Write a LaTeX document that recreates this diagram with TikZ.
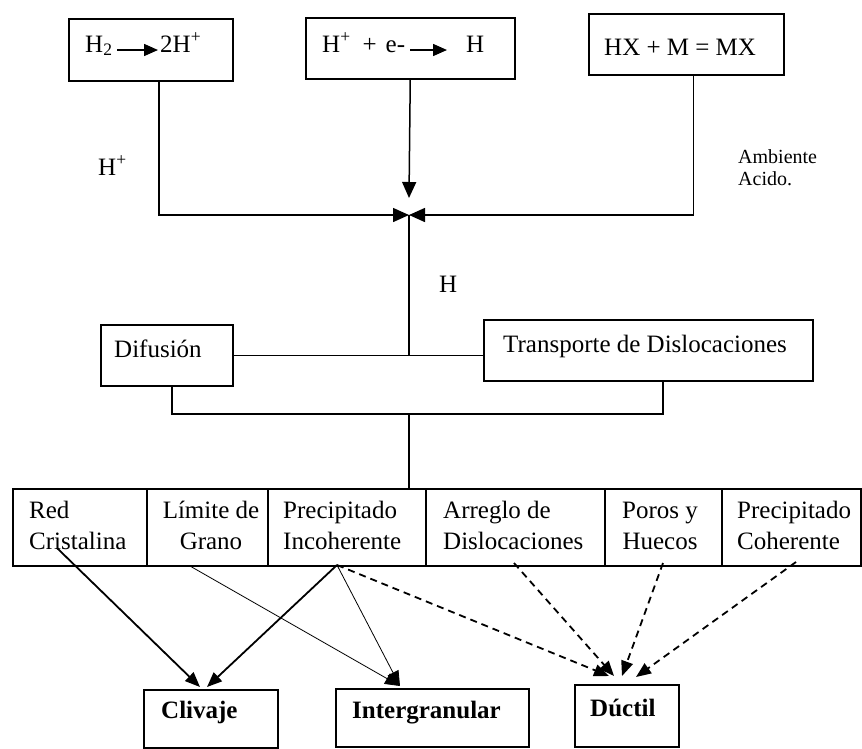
\documentclass[tikz,border=0pt]{standalone}
\usepackage{fontspec}
\setmainfont{Liberation Serif}
\usetikzlibrary{arrows.meta,calc}
\begin{document}
\begin{tikzpicture}[x=1pt,y=-1pt,
  box/.style={draw,line width=1.5pt,inner sep=0pt,anchor=north west},
  txt/.style={inner sep=0pt,anchor=base west,font=\fontsize{25}{30}\selectfont},
  ctxt/.style={inner sep=0pt,anchor=base,font=\fontsize{25}{30}\selectfont},
  small/.style={inner sep=0pt,anchor=base west,font=\fontsize{20}{24}\selectfont},
  wire/.style={line width=1.5pt},
  jarr/.style={line width=1.5pt,-{Triangle[length=16pt,width=14pt]}},
  rarr/.style={line width=1.5pt,-{Triangle[length=14pt,width=12pt]}},
  thick arr/.style={line width=1.8pt,-{Triangle[length=15pt,width=12pt]}},
  thin arr/.style={line width=0.8pt,-{Triangle[length=15pt,width=12pt]}},
  dash arr/.style={line width=1.8pt,dash pattern=on 7pt off 5pt,-{Triangle[length=15pt,width=12pt]}}
]
\useasboundingbox (0,0) rectangle (862,748);
\fill[white] (0,0) rectangle (862,748);

% ---- reactions (top row) ----
\node[box,minimum width=164pt,minimum height=62pt] (b1) at (68,18) {};
\node[box,minimum width=209pt,minimum height=61pt] (b2) at (305,17) {};
\node[box,minimum width=195pt,minimum height=61pt] (b3) at (588,13) {};

\node[txt] (t1a) at (85,52) {H\textsubscript{2}};
\node[txt] (t1b) at (160,52) {2H\textsuperscript{+}};
\coordinate (a1s) at (117,50);
\coordinate (a1e) at (158,50);
\draw[rarr] (a1s) -- (a1e);

\node[txt] (t2a) at (322,52) {H\textsuperscript{+}\hspace{12pt}+\hspace{9pt}e-};
\node[txt] (t2b) at (466,52) {H};
\coordinate (a2s) at (410,50);
\coordinate (a2e) at (447,50);
\draw[rarr] (a2s) -- (a2e);

\node[txt] (t3) at (604,55) {HX + M = MX};

% ---- merging of the three sources ----
\coordinate (j) at (409,215);
\coordinate (jt) at (409,198);
\draw[jarr] ($(b1.south)+(8,0)$) |- (j);
\draw[jarr] ($(b3.south)+(7,0)$) |- (j);
\draw[jarr] (b2.south) -- (jt);

\node[txt] (lhp) at (98,175) {H\textsuperscript{+}};
\node[small] (amb1) at (738,163) {Ambiente};
\node[small] (amb2) at (738,185) {Acido.};

% ---- transport mechanisms ----
\node[box,minimum width=132pt,minimum height=61pt] (dif) at (100,324) {};
\node[txt] (tdif) at (114,357) {Difusión};
\node[box,minimum width=329pt,minimum height=61pt] (tra) at (483,319) {};
\node[txt] (ttra) at (503,352) {Transporte de Dislocaciones};

\node[txt] (lh) at (439,292) {H};

\draw[wire] (j) -- (j |- dif.east);
\draw[wire] (dif.east) -- (tra.west |- dif.east);

\coordinate (lowL) at (172,414);
\coordinate (lowM) at (409,414);
\coordinate (lowR) at (663,414);
\draw[wire] (dif.south -| lowL) -- (lowL) -- (lowR) -- (tra.south -| lowR);

% ---- trapping sites ----
\node[box,minimum width=134pt,minimum height=77pt] (c1) at (12,488) {};
\node[box,minimum width=121pt,minimum height=77pt] (c2) at (146,488) {};
\node[box,minimum width=158pt,minimum height=77pt] (c3) at (267,488) {};
\node[box,minimum width=179pt,minimum height=77pt] (c4) at (425,488) {};
\node[box,minimum width=117pt,minimum height=77pt] (c5) at (604,488) {};
\node[box,minimum width=139pt,minimum height=77pt] (c6) at (721,488) {};

\draw[wire] (lowM) -- (lowM |- c3.north);

\node[txt] (c1a) at (29,518) {Red};
\node[txt] (c1b) at (29,549) {Cristalina};
\node[ctxt] (c2a) at (211,518) {Límite de};
\node[ctxt] (c2b) at (211,549) {Grano};
\node[txt] (c3a) at (283,518) {Precipitado};
\node[txt] (c3b) at (283,549) {Incoherente};
\node[txt] (c4a) at (443,518) {Arreglo de};
\node[txt] (c4b) at (443,549) {Dislocaciones};
\node[ctxt] (c5a) at (660,518) {Poros y};
\node[ctxt] (c5b) at (660,549) {Huecos};
\node[txt] (c6a) at (737,518) {Precipitado};
\node[txt] (c6b) at (737,549) {Coherente};

% ---- fracture modes ----
\node[box,minimum width=134pt,minimum height=58pt] (cli) at (143,689) {};
\node[txt,font=\fontsize{25}{30}\selectfont\bfseries] (tcli) at (161,718) {Clivaje};
\node[box,minimum width=193pt,minimum height=58pt] (int) at (335,688) {};
\node[txt,font=\fontsize{25}{30}\selectfont\bfseries] (tint) at (352,718) {Intergranular};
\node[box,minimum width=104pt,minimum height=62pt] (duc) at (574,684) {};
\node[txt,font=\fontsize{25}{30}\selectfont\bfseries] (tduc) at (590,716) {Dúctil};

% arrow end points
\coordinate (rc) at (57,548);
\coordinate (lg) at (190,566);
\coordinate (pi) at (337,565);
\coordinate (ad) at (514,563);
\coordinate (ph) at (663,563);
\coordinate (pc) at (796,562);
\coordinate (cl1) at (200,687);
\coordinate (cl2) at (207,687);
\coordinate (ig) at (400,686);
\coordinate (du1) at (609,676);
\coordinate (du2) at (614,676);
\coordinate (du3) at (622,676);
\coordinate (du4) at (636,677);

\draw[thick arr] (rc) -- (cl1);
\draw[thick arr] (pi) -- (cl2);
\draw[thin arr] (lg) -- (ig);
\draw[thin arr] (pi) -- (ig);
\draw[dash arr] (pi) -- (du1);
\draw[dash arr] (ad) -- (du2);
\draw[dash arr] (ph) -- (du3);
\draw[dash arr] (pc) -- (du4);
\end{tikzpicture}
\end{document}
